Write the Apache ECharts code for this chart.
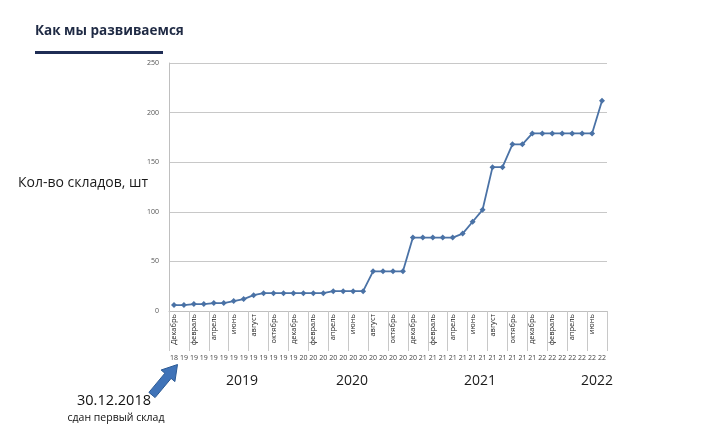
<!DOCTYPE html>
<html>
<head>
<meta charset="utf-8">
<script src="https://cdn.jsdelivr.net/npm/echarts@6/dist/echarts.min.js"></script>
<style>
html,body{margin:0;padding:0;background:#fff;}
#chart{width:720px;height:436px;}
</style>
</head>
<body>
<div id="chart"></div>
<script>
// Categories: months from Dec 2018 to Jul 2022
var months = [
  'Декабрь',
  'январь','февраль','март','апрель','май','июнь','июль','август','сентябрь','октябрь','ноябрь','декабрь',
  'январь','февраль','март','апрель','май','июнь','июль','август','сентябрь','октябрь','ноябрь','декабрь',
  'январь','февраль','март','апрель','май','июнь','июль','август','сентябрь','октябрь','ноябрь','декабрь',
  'январь','февраль','март','апрель','май','июнь','июль'
];
var yearShort = [
  '18',
  '19','19','19','19','19','19','19','19','19','19','19','19',
  '20','20','20','20','20','20','20','20','20','20','20','20',
  '21','21','21','21','21','21','21','21','21','21','21','21',
  '22','22','22','22','22','22','22'
];
// Number of warehouses
var warehouses = [
  6,
  6,7,7,8,8,10,12,16,18,18,18,18,
  18,18,18,20,20,20,20,40,40,40,40,74,
  74,74,74,74,78,90,102,145,145,168,168,179,
  179,179,179,179,179,179,212
];
var yTicks = [0,50,100,150,200,250];
var yearTitles = ['2019','2020','2021','2022'];

var chart = echarts.init(document.getElementById('chart'));
var font = 'Open Sans';
var yearX = [242, 352, 480, 597];

var option = {
  animation: false,
  backgroundColor: '#ffffff',
  textStyle: {fontFamily: font},
  grid: {left: 169, right: 113, top: 63, bottom: 125},
  xAxis: [
    {
      type: 'category',
      data: months,
      boundaryGap: true,
      axisLine: {show: true, lineStyle: {color: '#bfbfbf', width: 1}},
      axisTick: {show: true, interval: 1, length: 40, lineStyle: {color: '#c8c8c8'}},
      axisLabel: {interval: 1, rotate: 90, fontSize: 7.5, color: '#222', margin: 3, fontFamily: font},
      splitLine: {show: false}
    },
    {
      type: 'category',
      data: yearShort,
      position: 'bottom',
      boundaryGap: true,
      axisLine: {show: false},
      axisTick: {show: false},
      axisLabel: {interval: 0, fontSize: 7, color: '#444', margin: 43, fontFamily: font},
      splitLine: {show: false}
    }
  ],
  yAxis: {
    type: 'value',
    min: 0, max: 250, interval: 50,
    axisLine: {show: true, lineStyle: {color: '#bfbfbf'}},
    axisTick: {show: false},
    axisLabel: {fontSize: 7, color: '#555', margin: 10, fontFamily: font,
      formatter: function(v){ return yTicks.indexOf(v) >= 0 ? String(v) : ''; }},
    splitLine: {show: true, lineStyle: {color: '#c8c8c8', width: 1}}
  },
  series: [{
    type: 'line',
    data: warehouses,
    xAxisIndex: 0,
    symbol: 'diamond',
    symbolSize: 6,
    showAllSymbol: true,
    lineStyle: {color: '#4a72a6', width: 1.8},
    itemStyle: {color: '#4a72a6'}
  }],
  graphic: [
    {type: 'text', left: 35, top: 24, style: {text: 'Как мы развиваемся', fontSize: 13.5, fontWeight: 'bold', fill: '#1f2a44', fontFamily: font}},
    {type: 'rect', shape: {x: 35, y: 51, width: 128, height: 3}, style: {fill: '#1f2d55'}},
    {type: 'text', left: 18, top: 176, style: {text: 'Кол-во складов, шт', fontSize: 14, fill: '#1a1a1a', fontFamily: font}},
    {type: 'text', x: yearX[0], y: 381, style: {text: yearTitles[0], fontSize: 14, fill: '#1a1a1a', align: 'center', verticalAlign: 'middle', fontFamily: font}},
    {type: 'text', x: yearX[1], y: 381, style: {text: yearTitles[1], fontSize: 14, fill: '#1a1a1a', align: 'center', verticalAlign: 'middle', fontFamily: font}},
    {type: 'text', x: yearX[2], y: 381, style: {text: yearTitles[2], fontSize: 14, fill: '#1a1a1a', align: 'center', verticalAlign: 'middle', fontFamily: font}},
    {type: 'text', x: yearX[3], y: 381, style: {text: yearTitles[3], fontSize: 14, fill: '#1a1a1a', align: 'center', verticalAlign: 'middle', fontFamily: font}},
    {type: 'polygon', shape: {points: [[155.1,397.6],[171.1,378.4],[174.9,381.6],[177.5,364.5],[161.1,370.0],[164.9,373.2],[148.9,392.4]]},
      style: {fill: '#3f73b8', stroke: '#2c5a94', lineWidth: 1}},
    {type: 'text', x: 114, y: 401, style: {text: '30.12.2018', fontSize: 14.5, fill: '#111', align: 'center', verticalAlign: 'middle', fontFamily: font}},
    {type: 'text', x: 116, y: 418, style: {text: 'сдан первый склад', fontSize: 10.5, fill: '#111', align: 'center', verticalAlign: 'middle', fontFamily: font}}
  ]
};
chart.setOption(option);
</script>
</body>
</html>
